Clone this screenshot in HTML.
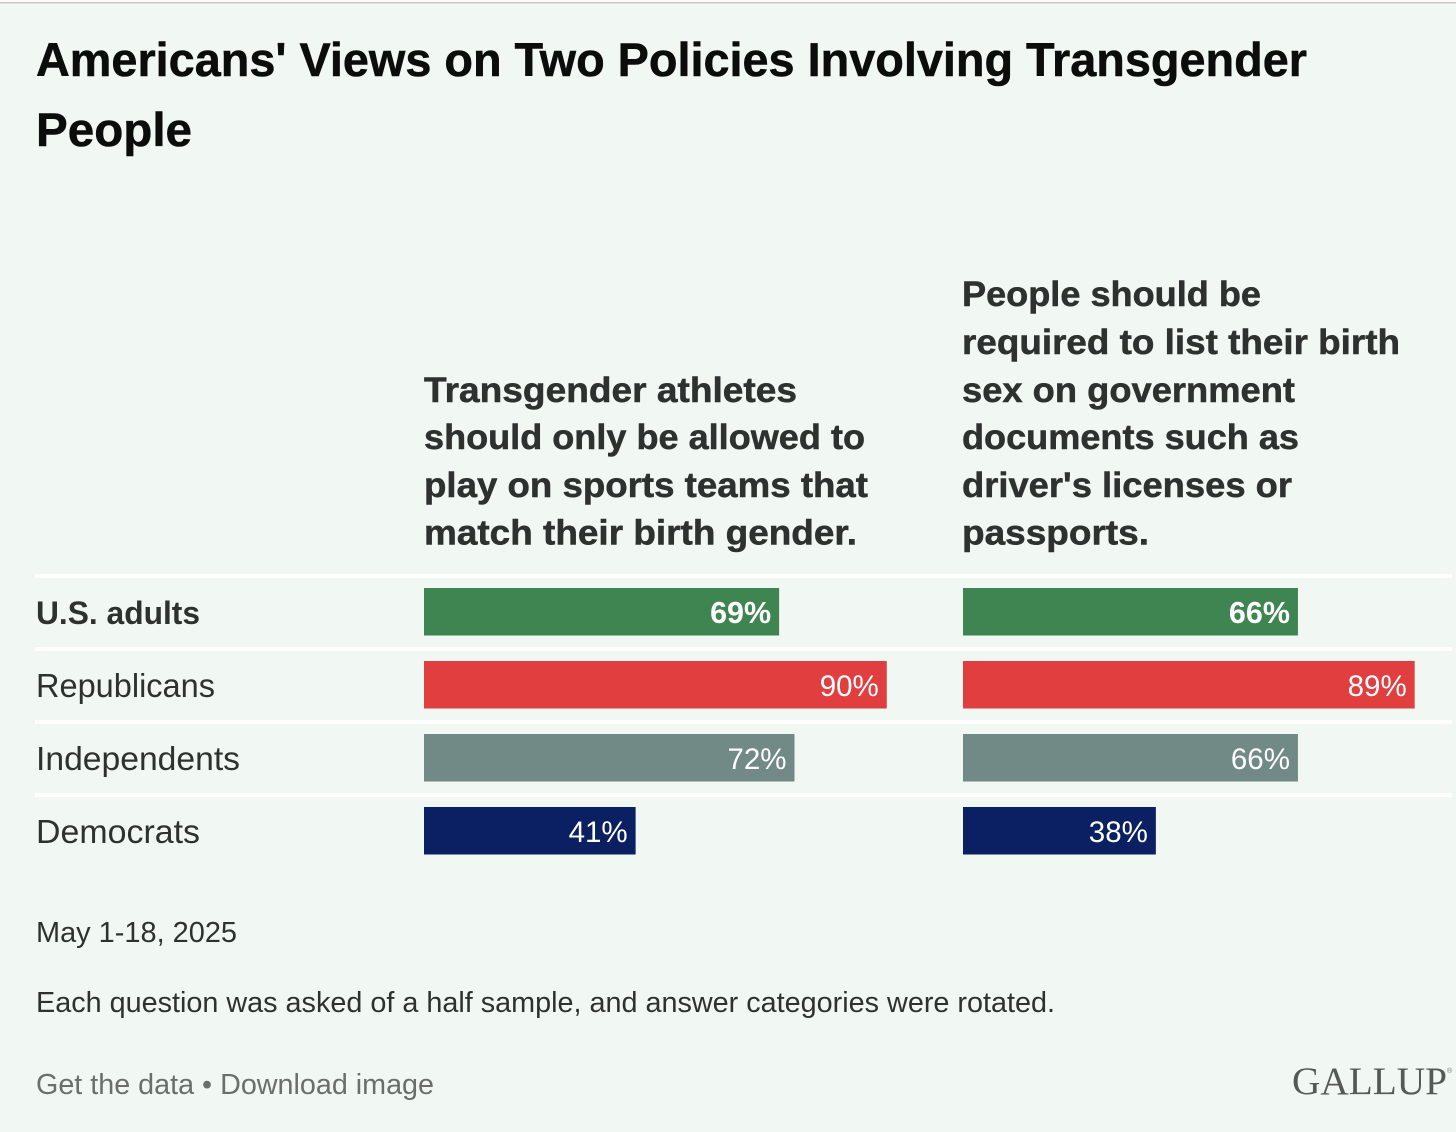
<!DOCTYPE html>
<html lang="en">
<head>
<meta charset="utf-8">
<title>Americans' Views on Two Policies Involving Transgender People</title>
<style>
html,body{margin:0;padding:0;width:1456px;height:1132px;overflow:hidden;background:#f1f7f2;}
svg{display:block;position:absolute;left:0;top:0;}
text{font-family:"Liberation Sans",sans-serif;}
.title{font-size:47px;font-weight:700;fill:#0b0c0c;stroke:#0b0c0c;stroke-width:.5px;}
.head{font-size:35px;font-weight:700;fill:#2d3130;stroke:#2d3130;stroke-width:.5px;}
.note{font-size:29px;fill:#2d3130;}
.link{font-size:29px;fill:#6a6f6d;cursor:pointer;}
</style>
</head>
<body>
<svg id="chart" width="1456" height="1132" viewBox="0 0 1456 1132" xmlns="http://www.w3.org/2000/svg">
  <rect x="0" y="0" width="1456" height="1132" fill="#f1f7f2"/>
  <rect x="0" y="0" width="1456" height="2" fill="#fbfbfb"/>
  <rect x="0" y="2" width="1456" height="1.5" fill="#c6c8c7"/>

  <text class="title" x="36" y="76" textLength="1271" lengthAdjust="spacingAndGlyphs">Americans' Views on Two Policies Involving Transgender</text>
  <text class="title" x="36" y="146" textLength="156" lengthAdjust="spacingAndGlyphs">People</text>

  <g>
    <text class="head" x="424" y="402" textLength="373" lengthAdjust="spacingAndGlyphs">Transgender athletes</text>
    <text class="head" x="424" y="449" textLength="441" lengthAdjust="spacingAndGlyphs">should only be allowed to</text>
    <text class="head" x="424" y="497" textLength="444" lengthAdjust="spacingAndGlyphs">play on sports teams that</text>
    <text class="head" x="424" y="544.5" textLength="433" lengthAdjust="spacingAndGlyphs">match their birth gender.</text>
  </g>
  <g>
    <text class="head" x="962" y="306" textLength="299" lengthAdjust="spacingAndGlyphs">People should be</text>
    <text class="head" x="962" y="354" textLength="438" lengthAdjust="spacingAndGlyphs">required to list their birth</text>
    <text class="head" x="962" y="402" textLength="333" lengthAdjust="spacingAndGlyphs">sex on government</text>
    <text class="head" x="962" y="449" textLength="337" lengthAdjust="spacingAndGlyphs">documents such as</text>
    <text class="head" x="962" y="497" textLength="330" lengthAdjust="spacingAndGlyphs">driver's licenses or</text>
    <text class="head" x="962" y="544.5" textLength="187" lengthAdjust="spacingAndGlyphs">passports.</text>
  </g>

  <g id="rows"></g>

  <text class="note" x="36" y="942" textLength="201" lengthAdjust="spacingAndGlyphs">May 1-18, 2025</text>
  <text class="note" x="36" y="1012" textLength="1019" lengthAdjust="spacingAndGlyphs">Each question was asked of a half sample, and answer categories were rotated.</text>
  <text class="link" x="36" y="1094" textLength="398" lengthAdjust="spacingAndGlyphs">Get the data • Download image</text>
  <text x="1292" y="1094" textLength="155" lengthAdjust="spacingAndGlyphs" style="font-family:'Liberation Serif',serif;font-size:39px;fill:#555a58;">GALLUP</text>
  <text x="1447" y="1073" style="font-size:7px;fill:#777c7a;">®</text>
</svg>
<script>
var categories = ["U.S. adults", "Republicans", "Independents", "Democrats"];
var sportsValues = [69, 90, 72, 41];
var documentsValues = [66, 89, 66, 38];

var NS = "http://www.w3.org/2000/svg";
var rowsGroup = document.getElementById("rows");
var rowColors = ["#3e8551", "#e03e3f", "#728a85", "#0b1f63"];
var labelFit = { "U.S. adults": 164, "Republicans": 179, "Independents": 204, "Democrats": 164 };

function xSports(v) { return v * 5.125 + 1.5; }
function xDocuments(v) { return v * 5.075; }
function rowTop(i) { return 588 + i * 73; }

function make(tag, attrs) {
  var el = document.createElementNS(NS, tag);
  for (var k in attrs) { el.setAttribute(k, attrs[k]); }
  rowsGroup.appendChild(el);
  return el;
}

function drawBar(x0, scale, value, i, prefix) {
  var w = scale(value);
  var top = rowTop(i);
  var bar = make("rect", { x: x0, y: top, width: w, height: 47.5, fill: rowColors[i] });
  
  
  bar.setAttribute('data-series', prefix + '-' + categories[i]);
  var label = make("text", {
    x: x0 + w - 8,
    y: top + 35,
    "text-anchor": "end",
    fill: "#ffffff",
    "font-size": i === 0 ? 30.5 : 29.5,
    "font-weight": i === 0 ? 700 : 400
  });
  
  
  label.textContent = value + "%";
}

for (var r = 0; r < categories.length; r++) {
  var divider = make("rect", { x: 35, y: rowTop(r) - 14, width: 1417, height: 4, fill: "#ffffff" });
  
  

  var rowLabel = make("text", {
    x: 36,
    y: rowTop(r) + 36,
    fill: "#2d3130",
    "font-size": r === 0 ? 32 : 33,
    "font-weight": r === 0 ? 700 : 400
  });
  if (labelFit[categories[r]]) {
    rowLabel.setAttribute("textLength", labelFit[categories[r]]);
    rowLabel.setAttribute("lengthAdjust", "spacingAndGlyphs");
  }
  
  
  rowLabel.textContent = categories[r];

  drawBar(424, xSports, sportsValues[r], r, "sports");
  drawBar(963, xDocuments, documentsValues[r], r, "documents");
}
</script>
</body>
</html>
